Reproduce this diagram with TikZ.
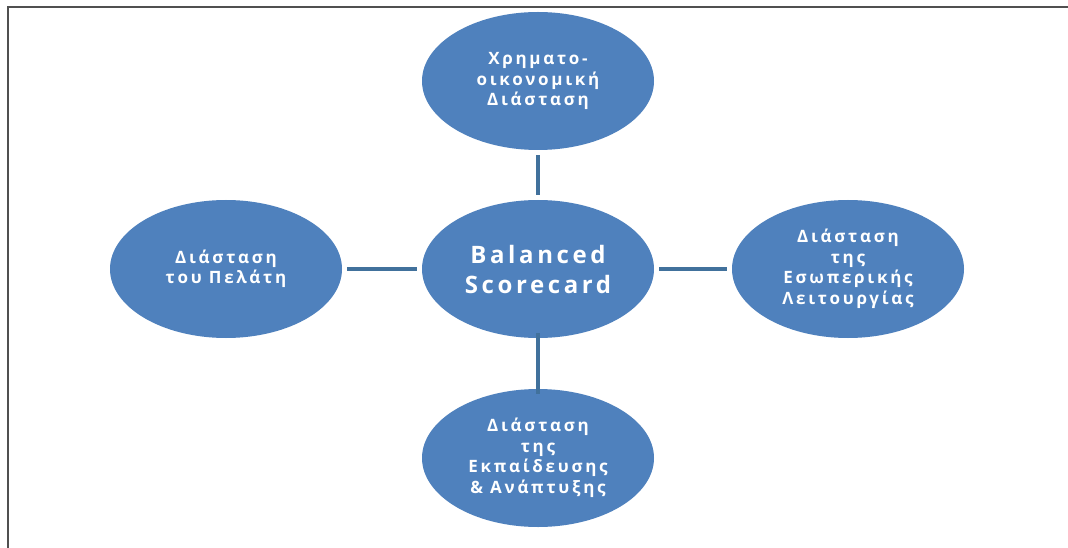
\documentclass[tikz,border=0pt]{standalone}
\usepackage{fontspec}
\setmainfont{Open Sans}
\newfontfamily\labelfont[LetterSpace=16]{Open Sans}
\newfontfamily\hubfont[LetterSpace=15]{Open Sans}
\usetikzlibrary{shapes.geometric}
\definecolor{bsfill}{HTML}{4F81BD}
\definecolor{bsline}{HTML}{41719C}
\definecolor{framegray}{HTML}{505050}
\tikzset{
  dimension/.style={ellipse, fill=bsfill, draw=none, minimum width=232pt, minimum height=138pt,
    inner sep=0pt, text=white, align=center, font=\labelfont\bfseries\fontsize{17}{20.5}\selectfont},
  hub/.style={dimension, font=\hubfont\bfseries\fontsize{24}{30}\selectfont},
  link/.style={draw=bsline, line width=4pt}
}
\begin{document}
\begin{tikzpicture}[x=1pt,y=-1pt]
  \useasboundingbox (0,0) rectangle (1068,548);
  \fill[white] (0,0) rectangle (1068,548);
  % open frame: top and left edges only
  \draw[framegray, line width=2.5pt] (8,548) -- (8,7) -- (1068,7);

  \node[hub] (bsc) at (538,269) {Balanced\\Scorecard};
  \node[dimension] (fin) at (538,81) {Χρηματο-\\οικονομική\\Διάσταση};
  \node[dimension] (cust) at (226,269) {Διάσταση\\του Πελάτη};
  \node[dimension] (intl) at (848,269) {Διάσταση\\της\\Εσωπερικής\\Λειτουργίας};
  \node[dimension] (learn) at (538,458) {Διάσταση\\της\\Εκπαίδευσης\\\& Ανάπτυξης};

  \draw[link] ([yshift=-5pt]fin.south) -- ([yshift=5pt]bsc.north);
  \draw[link] ([yshift=5pt]bsc.south) -- ([yshift=-5pt]learn.north);
  \draw[link] ([xshift=5pt]cust.east) -- ([xshift=-5pt]bsc.west);
  \draw[link] ([xshift=5pt]bsc.east) -- ([xshift=-5pt]intl.west);
\end{tikzpicture}
\end{document}
